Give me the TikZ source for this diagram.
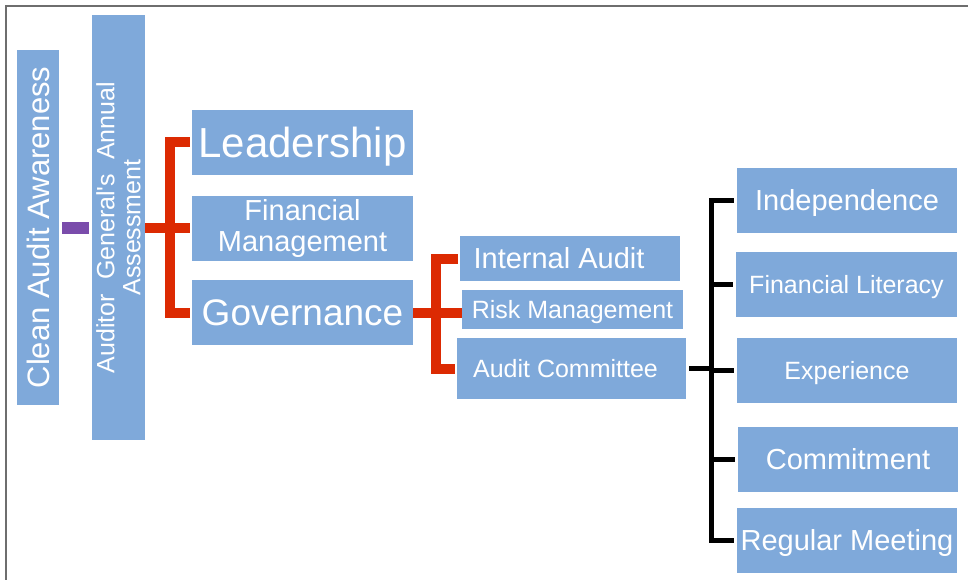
\documentclass[tikz,border=0pt]{standalone}
\usepackage{fontspec}
\setmainfont{Liberation Sans}
\definecolor{boxblue}{HTML}{7FA9DA}
\definecolor{linkred}{HTML}{DC2A02}
\definecolor{linkpurple}{HTML}{7A4CAB}
\definecolor{framegray}{HTML}{6E6E6E}
\begin{document}
\begin{tikzpicture}[x=1pt,y=-1pt,
  box/.style={fill=boxblue,text=white,inner sep=0pt},
  fs/.style 2 args={font=\fontsize{#1}{#2}\selectfont},
  item/.style={box,fs={#1}{#1},text height=#1*0.716,text depth=0pt},
  redlink/.style={draw=linkred,line width=10pt},
  blacklink/.style={draw=black,line width=5pt}]
\useasboundingbox (0,0) rectangle (968,580);
\draw[framegray,line width=2pt] (6,580) -- (6,6) -- (968,6);
\node[item=31,rotate=90,minimum width=355,minimum height=42] (caa) at (38,227.5) {Clean Audit Awareness};
\node[box,rotate=90,minimum width=425,minimum height=53,align=center,fs={25}{26}] (ag) at (118.5,227.5)
  {Auditor\ \ General\textquotesingle s\ \ Annual\\Assessment};
\node[item=42,minimum width=221,minimum height=65] (lead) at (302.5,142.5) {Leadership};
\node[box,minimum width=221,minimum height=65,align=center,fs={29}{31}] (fm) at (302.5,228.5) {Financial\\Management};
\node[item=37,minimum width=221,minimum height=65] (gov) at (302.5,312.5) {Governance};
\node[item=29,minimum width=220,minimum height=45] (ia) at (570,258.5) {Internal Audit\kern22pt};
\node[item=25,minimum width=221,minimum height=39] (rm) at (572.5,309.5) {Risk Management};
\node[item=25,minimum width=229,minimum height=61] (ac) at (571.5,368.5) {Audit Committee\kern12pt};
\node[item=29,minimum width=220,minimum height=65] (ind) at (847,200.5) {Independence};
\node[item=25,minimum width=221,minimum height=65] (fl) at (846.5,284.5) {Financial Literacy};
\node[item=25,minimum width=220,minimum height=65] (exp) at (847,370.5) {Experience};
\node[item=29,minimum width=220,minimum height=65] (com) at (848,459.5) {Commitment};
\node[item=29,minimum width=220,minimum height=65] (reg) at (847,540.5) {Regular Meeting};
\draw[linkpurple,line width=12pt,shorten <=3pt,shorten >=3pt] (caa.south) -- (ag.north);
\coordinate (rj) at (170,227.5);
\draw[redlink] (ag.south) -- (rj);
\draw[redlink,shorten <=2pt,shorten >=2pt] (lead.west) -| (rj) |- (gov.west);
\draw[redlink,shorten <=2pt] (fm.west |- rj) -- (rj);
\coordinate (rk) at (436,312.5);
\draw[redlink] (gov.east) -- (rm.west |- gov.east);
\draw[redlink,shorten <=2pt,shorten >=2pt] (ia.west) -| (rk) |- (ac.west);
\coordinate (bj) at (711.5,368.5);
\draw[blacklink,shorten <=3pt] (ac.east) -- (bj);
\draw[blacklink,shorten <=3pt,shorten >=3pt] (ind.west) -| (bj) |- (reg.west);
\draw[blacklink,shorten <=3pt] (fl.west) -- (fl.west -| bj);
\draw[blacklink,shorten <=3pt] (exp.west) -- (exp.west -| bj);
\draw[blacklink,shorten <=3pt] (com.west) -- (com.west -| bj);
\end{tikzpicture}
\end{document}
